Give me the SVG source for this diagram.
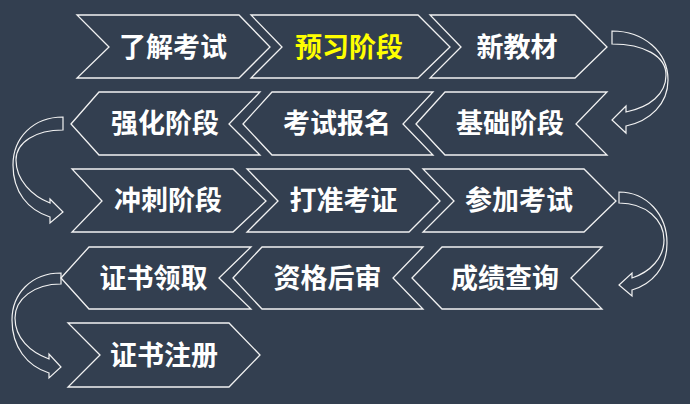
<svg xmlns="http://www.w3.org/2000/svg" width="690" height="404" viewBox="0 0 690 404">
<style>
.bg{fill:#333F50}
.chev{fill:#333F50;stroke:#F2F2F2;stroke-width:1.3;stroke-linejoin:miter}
.arr{fill:none;stroke:#F2F2F2;stroke-width:1.2;stroke-linejoin:miter}
.t{font-family:"Noto Sans CJK SC","Noto Sans",sans-serif;font-weight:700;font-size:27px;fill:#FFFFFF;text-anchor:middle}
.y{fill:#FFFF00}
</style>
<rect class="bg" x="0" y="0" width="690" height="404"/>
<g id="connectors">
<path class="arr" d="M612,31 C644,31 668,52 668,80 C668,104 650,121 626,126 L626,133 L612,120 L626,106 L626,112 C650,107 666,94 666,75 C666,56 644,44 612,44 Z"/>
<path class="arr" d="M63,117 C33,117 13,138 13,165 C13,192 28,210 50,217 L50,223 L63,212 L50,199 L50,203 C32,196 16,180 16,160 C16,142 36,130 63,130 Z"/>
<path class="arr" d="M619,192 C647,192 667,215 667,243 C667,268 652,284 632,290 L632,296 L619,285 L632,273 L632,278 C650,272 664,258 664,240 C664,220 646,203 619,203 Z"/>
<path class="arr" d="M61,273 C31,273 12,294 12,320 C12,347 27,366 49,373 L49,378 L61,367 L49,354 L49,359 C30,352 15,338 15,318 C15,299 34,284 61,284 Z"/>
</g>
<g id="n1"><polygon class="chev" points="77,15 239,15 270,47 239,78 77,78 109,47"/><text class="t" x="173" y="56.5">了解考试</text></g>
<g id="n2"><polygon class="chev" points="251,15 418,15 450,47 418,78 251,78 282,47"/><text class="t y" x="349" y="56.5">预习阶段</text></g>
<g id="n3"><polygon class="chev" points="430,15 575,15 607,47 575,78 430,78 461,47"/><text class="t" x="517" y="56.5">新教材</text></g>
<g id="n4"><polygon class="chev" points="71,124 99,92 260,92 229,124 260,155 99,155"/><text class="t" x="165" y="133">强化阶段</text></g>
<g id="n5"><polygon class="chev" points="243,124 272,92 433,92 403,124 433,155 272,155"/><text class="t" x="337" y="133">考试报名</text></g>
<g id="n6"><polygon class="chev" points="416,124 445,92 607,92 576,124 607,155 445,155"/><text class="t" x="510" y="133">基础阶段</text></g>
<g id="n7"><polygon class="chev" points="72,169 233,169 266,201 233,232 72,232 102,201"/><text class="t" x="168" y="210">冲刺阶段</text></g>
<g id="n8"><polygon class="chev" points="247,169 409,169 440,201 409,232 247,232 278,201"/><text class="t" x="343.5" y="210">打准考证</text></g>
<g id="n9"><polygon class="chev" points="423,169 584,169 616,201 584,232 423,232 454,201"/><text class="t" x="519" y="210">参加考试</text></g>
<g id="n10"><polygon class="chev" points="61,278 89,247 251,247 219,278 251,309 89,309"/><text class="t" x="153.5" y="287.5">证书领取</text></g>
<g id="n11"><polygon class="chev" points="233,278 262,247 423,247 393,278 423,309 262,309"/><text class="t" x="327.5" y="287.5">资格后审</text></g>
<g id="n12"><polygon class="chev" points="412,278 442,247 602,247 571,278 602,309 442,309"/><text class="t" x="505" y="287.5">成绩查询</text></g>
<g id="n13"><polygon class="chev" points="68,323 229,323 260,355 229,387 68,387 100,355"/><text class="t" x="164" y="364.5">证书注册</text></g>
</svg>
